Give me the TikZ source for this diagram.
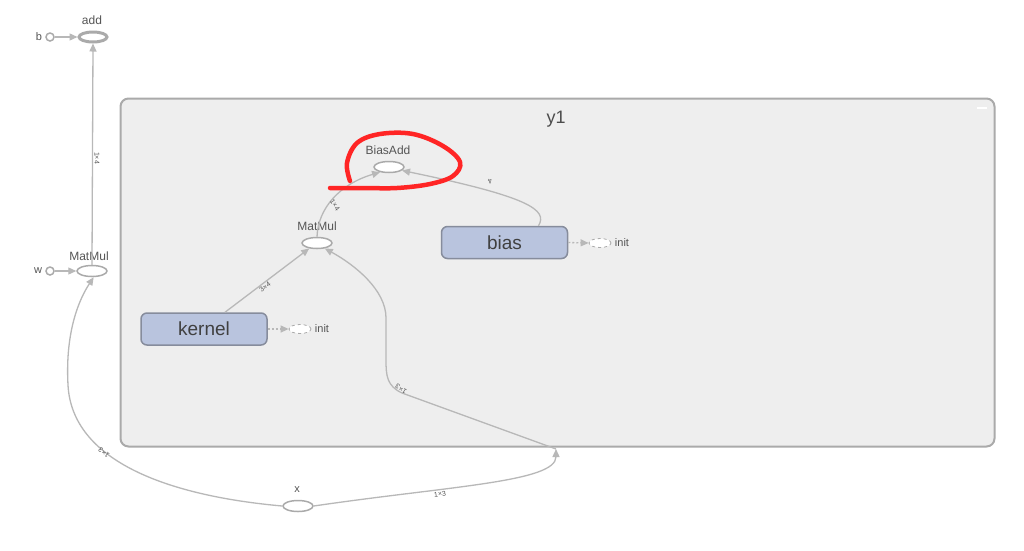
\documentclass[tikz,border=0pt]{standalone}
\usepackage{fontspec}
\setmainfont{Liberation Sans}
\usetikzlibrary{shapes.geometric,arrows.meta,calc}
\definecolor{edgec}{HTML}{B8B8B8}
\definecolor{nodeb}{HTML}{AAAAAA}
\definecolor{grpfill}{HTML}{EEEEEE}
\definecolor{grpline}{HTML}{AAAAAA}
\definecolor{txt}{HTML}{555555}
\definecolor{boxfill}{HTML}{B9C4DE}
\definecolor{boxline}{HTML}{868C9C}
\definecolor{redmark}{HTML}{FF2525}
\tikzset{
  op/.style={ellipse,draw=nodeb,fill=white,line width=1.5pt,minimum width=30pt,minimum height=11pt,inner sep=0pt},
  opthick/.style={op,line width=3pt,minimum width=28pt,minimum height=10pt},
  inp/.style={circle,draw=nodeb,fill=white,line width=1.5pt,minimum size=8pt,inner sep=0pt},
  initop/.style={ellipse,draw=nodeb,fill=white,dashed,line width=0.8pt,minimum width=22pt,minimum height=9pt,inner sep=0pt},
  varbox/.style={rectangle,rounded corners=6pt,draw=boxline,fill=boxfill,line width=1.5pt,minimum width=126pt,minimum height=32pt,inner sep=0pt,font=\fontsize{19}{19}\selectfont,text=black!75},
  lbl/.style={font=\fontsize{12}{12}\selectfont,text=txt,inner sep=0pt},
  slbl/.style={font=\fontsize{11}{11}\selectfont,text=txt,inner sep=0pt},
  elbl/.style={font=\fontsize{7}{7}\selectfont,text=txt,inner sep=0pt},
  edge/.style={draw=edgec,line width=1.3pt,-{Triangle[length=8pt,width=7pt]}},
  dedge/.style={draw=edgec,line width=1.3pt,dash pattern=on 2pt off 2pt,-{Triangle[length=8pt,width=7pt]}},
}
\begin{document}
\begin{tikzpicture}[x=1pt,y=-1pt]
\useasboundingbox (0,0) rectangle (1024,550);
\fill[white] (0,0) rectangle (1024,550);
% group
\node[draw=grpline,fill=grpfill,line width=2pt,rounded corners=8pt,minimum width=874pt,minimum height=348pt,inner sep=0pt,anchor=north west] (grp) at (119.5,97.5) {};
\node[font=\fontsize{18}{18}\selectfont,text=black!70,inner sep=0pt] (grptitle) at (556,119) {y1};
\draw[white,line width=1.5pt] (977,108) -- (987,108);
% outer nodes
\node[opthick] (add) at (93,37) {};
\node[lbl] (addl) at (92,20) {add};
\node[inp] (b) at (50,37) {};
\node[slbl] (bl) at (39,37) {b};
\node[op] (mm0) at (92,271) {};
\node[lbl] (mm0l) at (89,256) {MatMul};
\node[inp] (w) at (50,271) {};
\node[slbl] (wl) at (38,271) {w};
\node[op] (x) at (298,506) {};
\node[slbl] (xl) at (297,490) {x};
% inner nodes
\node[op] (ba) at (389,167) {};
\node[lbl] (bal) at (388,150) {BiasAdd};
\node[op] (mm1) at (317,243) {};
\node[lbl] (mm1l) at (317,226) {MatMul};
\node[varbox] (bias) at (504.5,242.5) {bias};
\node[varbox] (kernel) at (204,329) {kernel};
\node[initop] (init1) at (600,243) {};
\node[slbl] (init1l) at (622,243) {init};
\node[initop] (init2) at (300,329) {};
\node[slbl] (init2l) at (322,329) {init};
\coordinate (gin) at (556,449);
% edges
\draw[edge] (b) -- (add);
\draw[edge] (w) -- (mm0);
\draw[edge] (mm0.north) -- (add.south);
\node[elbl,rotate=-90] (e1) at (97,158) {1×4};
\draw[edge] (x.west) .. controls (170,496) and (72,462) .. (68,385) .. controls (65,330) and (80,298) .. (mm0.-75);
\node[elbl,rotate=140] (e2) at (104,453) {1×3};
\draw[edge] (x.east) .. controls (450,486) and (556,482) .. (gin);
\node[elbl,rotate=8] (e3) at (440,494) {1×3};
\draw[edge] (gin) -- (402,393) .. controls (387,386) and (386,376) .. (386,360) -- (386,318) .. controls (386,290) and (355,265) .. (mm1.-35);
\node[elbl,rotate=147] (e4) at (401,389) {1×3};
\draw[edge] ($(kernel.north)+(21,0)$) -- (mm1.-145);
\node[elbl,rotate=37] (e5) at (265,287) {3×4};
\draw[edge] (mm1.north) .. controls (318,208) and (340,184) .. (ba.-150);
\node[elbl,rotate=-55] (e6) at (335,205) {1×4};
\draw[edge] ($(bias.north)+(34,0)$) .. controls (548,210) and (530,197) .. (ba.-15);
\node[elbl,rotate=200] (e7) at (490,181) {4};
\draw[dedge] (bias.east) -- (init1.west);
\draw[dedge] (kernel.east) -- (init2.west);
% red annotation
\draw[redmark,line width=4.5pt,line cap=round,line join=round] plot[smooth,tension=0.6] coordinates {(350,181) (347,163) (357,143) (380,134) (413,134) (443,146) (460,162) (453,176) (430,184) (397,188) (363,188) (330,188)};
\end{tikzpicture}
\end{document}
